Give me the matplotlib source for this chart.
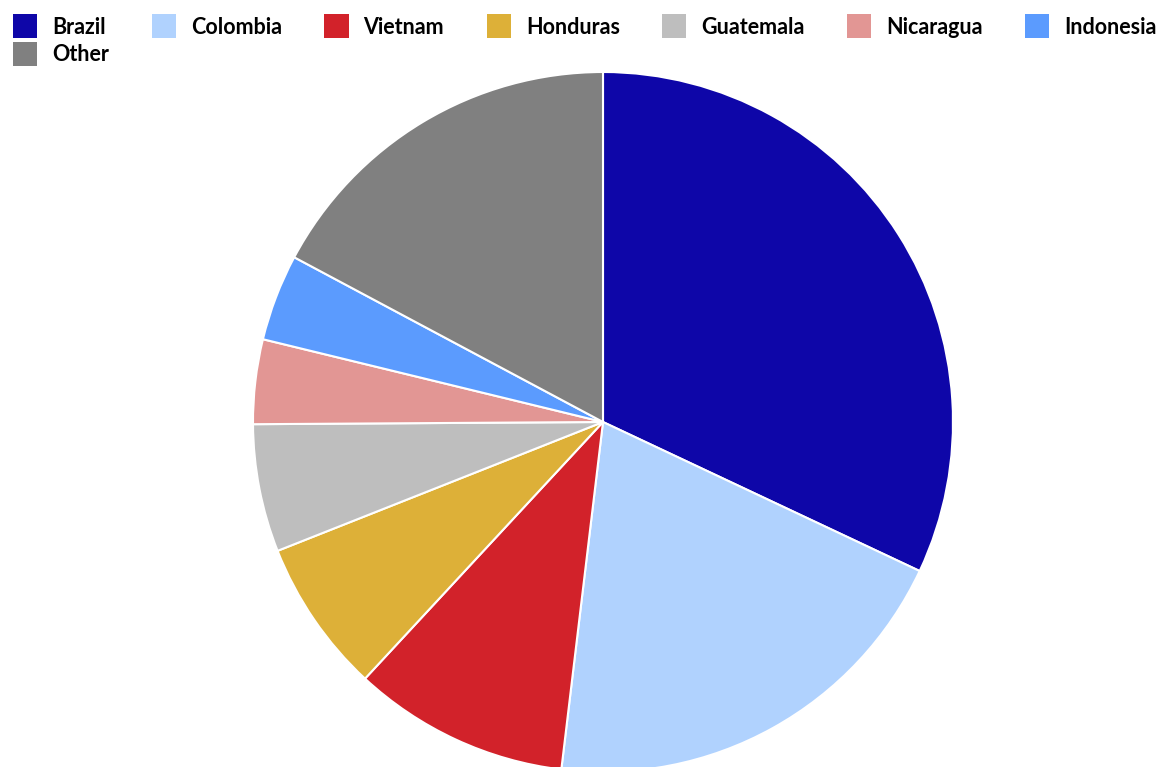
import matplotlib.pyplot as plt
from matplotlib.patches import Patch

# 国別のシェア (%)
countries = ['Brazil', 'Colombia', 'Vietnam', 'Honduras', 'Guatemala',
             'Nicaragua', 'Indonesia', 'Other']
shares = [32.0, 19.9, 10.0, 7.1, 5.9, 3.9, 4.0, 17.2]
colors = ['#0e06a8', '#b0d2fe', '#d2222a', '#ddb038', '#bebebe',
          '#e29694', '#5b9bfe', '#808080']

fig = plt.figure(figsize=(11.64, 7.67), dpi=100)
W, H = 1164, 767
cx, cy, r = 603, 422, 350
ax = fig.add_axes([(cx - r) / W, (H - cy - r) / H, 2 * r / W, 2 * r / H])

wedges, _ = ax.pie(shares, colors=colors, startangle=90, counterclock=False,
                   wedgeprops=dict(edgecolor='white', linewidth=1.5))
for w in wedges:
    w.set_clip_on(False)
ax.set_xlim(-1, 1)
ax.set_ylim(-1, 1)
ax.set_aspect('equal')
ax.axis('off')

# 凡例は横方向に並べたいので順番を入れ替える (列優先で詰められるため)
order = [0, 7, 1, 2, 3, 4, 5, 6]
handles = [Patch(facecolor=colors[i], edgecolor='none') for i in order]
fig.legend(handles, [countries[i] for i in order],
           loc='upper left', bbox_to_anchor=(0.0, 1.0 - 1 / H),
           ncol=7, frameon=False, prop={'family': 'Lato', 'weight': 'bold', 'size': 15.5},
           handlelength=1.12, handleheight=1.34, handletextpad=0.7,
           columnspacing=1.97, labelspacing=0.15, borderaxespad=0.0, borderpad=0.62)

plt.savefig('out.png')
plt.close()
